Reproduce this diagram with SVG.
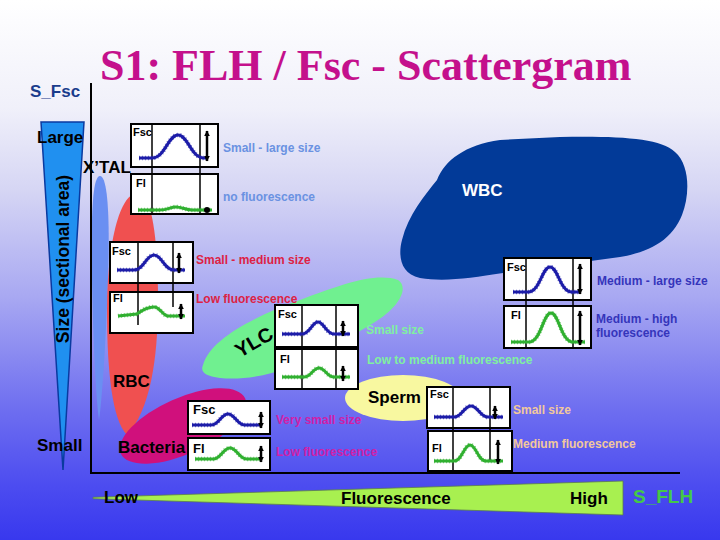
<svg xmlns="http://www.w3.org/2000/svg" width="720" height="540" viewBox="0 0 720 540">
<defs>
<linearGradient id="bg" x1="0" y1="0" x2="0" y2="1">
<stop offset="0" stop-color="#ffffff"/>
<stop offset="0.2" stop-color="#f0f0fa"/>
<stop offset="0.35" stop-color="#d6d6f4"/>
<stop offset="0.55" stop-color="#a8a8f2"/>
<stop offset="0.75" stop-color="#7070f0"/>
<stop offset="0.9" stop-color="#4c4cf0"/>
<stop offset="1" stop-color="#3838ee"/>
</linearGradient>
<marker id="ah" viewBox="0 0 10 10" refX="9" refY="5" markerWidth="6" markerHeight="6" markerUnits="userSpaceOnUse" orient="auto-start-reverse">
<path d="M0,0 L10,5 L0,10 Z" fill="#000"/>
</marker>
<style>
.t{font-family:"Liberation Sans",Arial,sans-serif;font-weight:bold}
.lbl{font-family:"Liberation Sans",Arial,sans-serif;font-weight:bold;font-size:17px;fill:#000}
.desc{font-family:"Liberation Sans",Arial,sans-serif;font-weight:bold;font-size:12px}
.pl{font-family:"Liberation Sans",Arial,sans-serif;font-weight:bold;font-size:11px;fill:#000}
.box{fill:#fff;stroke:#000;stroke-width:2}
.vl{stroke:#000;stroke-width:1.5}
.cb{fill:none;stroke:#1c1ca8;stroke-width:3;stroke-linejoin:round}
.cbt{fill:none;stroke:#1c1ca8;stroke-width:4.5;stroke-dasharray:1 2;opacity:0.6}
.cg{fill:none;stroke:#30b030;stroke-width:3;stroke-linejoin:round}
.cgt{fill:none;stroke:#30b030;stroke-width:4.5;stroke-dasharray:1 2;opacity:0.6}
.ar{stroke:#000;stroke-width:2.5;marker-start:url(#ah);marker-end:url(#ah)}
</style>
</defs>

<rect id="background" x="0" y="0" width="720" height="540" fill="url(#bg)"/>

<text id="title" x="100" y="80" font-family="Liberation Serif,Times New Roman,serif" font-weight="bold" font-size="44" fill="#c4108c">S1: FLH / Fsc - Scattergram</text>

<g id="y-axis-scale">
<polygon points="41,122 84,122 63,470" fill="#2090f0" stroke="#0a3aa0" stroke-width="1.5"/>
<text class="t" x="0" y="0" font-size="17.5" fill="#000" text-anchor="middle" transform="translate(69,259) rotate(-90)">Size (sectional area)</text>
<text class="t" x="30" y="97" font-size="17" fill="#1a3c8c">S_Fsc</text>
<text class="lbl" x="37" y="143">Large</text>
<text class="lbl" x="37" y="451">Small</text>
</g>

<g id="x-axis-scale">
<polygon points="93,497.3 623,481 623,515 93,498.7" fill="#a8f050" stroke="#5a7a50" stroke-width="0.8"/>
<text class="lbl" x="104" y="503">Low</text>
<text class="lbl" x="341" y="504">Fluorescence</text>
<text class="lbl" x="570" y="504">High</text>
<text class="t" x="633" y="503" font-size="19" fill="#44c848">S_FLH</text>
</g>

<g id="xtal">
<path d="M100,176 C108,176 110,220 108,280 C106,340 102,400 99,420 C96,400 93,340 92,280 C91,220 92,176 100,176 Z" fill="#6a8ff2"/>
<text class="lbl" x="83" y="173">X’TAL</text>
</g>

<g id="rbc">
<path d="M138,193 C152,193 158,240 158,300 C158,360 150,410 127,435 C112,420 107,370 107,310 C107,250 118,193 138,193 Z" fill="#f05050"/>
<text class="lbl" x="113" y="387">RBC</text>
</g>

<g id="bacteria">
<ellipse cx="183" cy="426" rx="68" ry="28" transform="rotate(-24 183 426)" fill="#d0107c"/>
<text class="lbl" x="118" y="453">Bacteria</text>
</g>

<g id="ylc">
<path d="M203,365 C210,340 250,318 300,300 C340,285 375,272 398,280 C410,288 398,308 375,322 C350,337 320,355 290,367 C265,377 240,380 220,378 C205,376 200,372 203,365 Z" fill="#70f090"/>
<text class="t" x="0" y="0" font-size="20" fill="#000" transform="translate(240,358) rotate(-30)">YLC</text>
</g>

<g id="sperm">
<ellipse cx="403" cy="398" rx="58" ry="23" fill="#f8f8a0"/>
<text class="lbl" x="368" y="403">Sperm</text>
</g>

<g id="wbc">
<path d="M437,180 C445,160 465,145 500,140 L560,137 C620,136 660,138 675,152 C690,165 690,195 682,215 C672,240 650,252 620,257 L503,273 C470,278 445,282 420,278 C400,274 398,255 402,240 C408,215 425,195 437,180 Z" fill="#023a98"/>
<text class="lbl" x="462" y="196" style="fill:#fff">WBC</text>
</g>

<g id="axes">
<line x1="91" y1="83" x2="91" y2="473" stroke="#000" stroke-width="2"/>
<line x1="90" y1="473" x2="680" y2="473" stroke="#000" stroke-width="2"/>
</g>

<g id="panel-xtal">
<rect class="box" x="131" y="124" width="87" height="43"/>
<rect class="box" x="131" y="174" width="87" height="40"/>
<line class="vl" x1="152" y1="124" x2="152" y2="214"/>
<line class="vl" x1="200" y1="124" x2="200" y2="214"/>
<text class="pl" x="133" y="136">Fsc</text>
<text class="pl" x="136" y="187">Fl</text>
<path class="cbt" d="M139,158 L152,158 C165,158 168,135 178,135 C188,135 191,158 204,158 L207,158"/>
<path class="cb" d="M139,158 L152,158 C165,158 168,135 178,135 C188,135 191,158 204,158 L207,158"/>
<path class="cgt" d="M138,210 L160,210 C168,210 170,207 176,207 C182,207 186,210 192,210 L212,210"/>
<path class="cg" d="M138,210 L160,210 C168,210 170,207 176,207 C182,207 186,210 192,210 L212,210"/>
<line class="ar" x1="207" y1="131" x2="207" y2="161"/>
<circle cx="207" cy="210" r="3" fill="#000"/>
<text class="desc" x="223" y="152" fill="#6a92e2">Small - large size</text>
<text class="desc" x="223" y="201" fill="#6a92e2">no fluorescence</text>
</g>

<g id="panel-rbc">
<rect class="box" x="110" y="242" width="83" height="41"/>
<rect class="box" x="110" y="292" width="83" height="41"/>
<line class="vl" x1="138" y1="242" x2="138" y2="325"/>
<line class="vl" x1="173" y1="242" x2="173" y2="307"/>
<text class="pl" x="112" y="255">Fsc</text>
<text class="pl" x="113" y="302">Fl</text>
<path class="cbt" d="M117,270 L134,270 C144,270 146,255 154,255 C162,255 164,270 174,270 L185,270"/>
<path class="cb" d="M117,270 L134,270 C144,270 146,255 154,255 C162,255 164,270 174,270 L185,270"/>
<path class="cgt" d="M118,316 L137,314 C145,308 149,307 154,307 C160,307 163,316 168,316 L185,316"/>
<path class="cg" d="M118,316 L137,314 C145,308 149,307 154,307 C160,307 163,316 168,316 L185,316"/>
<line class="ar" x1="179" y1="253" x2="179" y2="273"/>
<line class="ar" x1="181" y1="304" x2="181" y2="319"/>
<text class="desc" x="196" y="264" fill="#dd2244">Small - medium size</text>
<text class="desc" x="196" y="303" fill="#dd2244">Low fluorescence</text>
</g>

<g id="panel-ylc">
<rect class="box" x="275" y="305" width="83" height="42"/>
<rect class="box" x="275" y="349" width="83" height="40"/>
<line class="vl" x1="302" y1="305" x2="302" y2="389"/>
<line class="vl" x1="336" y1="305" x2="336" y2="389"/>
<text class="pl" x="278" y="318">Fsc</text>
<text class="pl" x="280" y="363">Fl</text>
<path class="cbt" d="M282,334 L302,334 C310,334 312,322 318,322 C324,322 326,334 334,334 L350,334"/>
<path class="cb" d="M282,334 L302,334 C310,334 312,322 318,322 C324,322 326,334 334,334 L350,334"/>
<path class="cgt" d="M282,377 L304,377 C311,377 313,368 319,368 C325,368 327,377 334,377 L350,377"/>
<path class="cg" d="M282,377 L304,377 C311,377 313,368 319,368 C325,368 327,377 334,377 L350,377"/>
<line class="ar" x1="343" y1="321" x2="343" y2="336"/>
<line class="ar" x1="343" y1="366" x2="343" y2="381"/>
<text class="desc" x="366" y="334" fill="#80f0a0">Small size</text>
<text class="desc" x="367" y="364" fill="#80f0a0">Low to medium fluorescence</text>
</g>

<g id="panel-wbc">
<rect class="box" x="504" y="258" width="87" height="42"/>
<rect class="box" x="504" y="306" width="87" height="42"/>
<line class="vl" x1="526" y1="258" x2="526" y2="348"/>
<line class="vl" x1="573" y1="258" x2="573" y2="348"/>
<text class="pl" x="507" y="271">Fsc</text>
<text class="pl" x="511" y="319">Fl</text>
<path class="cbt" d="M513,292 L528,292 C540,292 542,267 550,267 C558,267 560,292 572,292 L580,292"/>
<path class="cb" d="M513,292 L528,292 C540,292 542,267 550,267 C558,267 560,292 572,292 L580,292"/>
<path class="cgt" d="M511,342 L529,342 C541,342 543,313 551,313 C559,313 561,342 573,342 L585,342"/>
<path class="cg" d="M511,342 L529,342 C541,342 543,313 551,313 C559,313 561,342 573,342 L585,342"/>
<line class="ar" x1="580" y1="264" x2="580" y2="294"/>
<line class="ar" x1="580" y1="311" x2="580" y2="345"/>
<text class="desc" x="597" y="285" fill="#3535bb">Medium - large size</text>
<text class="desc" x="596" y="323" fill="#3535bb">Medium - high</text>
<text class="desc" x="596" y="337" fill="#3535bb">fluorescence</text>
</g>

<g id="panel-bacteria">
<rect class="box" x="188" y="401" width="82" height="33"/>
<rect class="box" x="188" y="438" width="82" height="32"/>
<text class="pl" x="193" y="414" style="font-size:13px">Fsc</text>
<text class="pl" x="193" y="453" style="font-size:13px">Fl</text>
<path class="cbt" d="M192,425 L211,425 C219,425 221,414 228,414 C235,414 237,425 245,425 L262,425"/>
<path class="cb" d="M192,425 L211,425 C219,425 221,414 228,414 C235,414 237,425 245,425 L262,425"/>
<path class="cgt" d="M195,459 L213,459 C221,459 223,448 230,448 C237,448 239,459 247,459 L262,459"/>
<path class="cg" d="M195,459 L213,459 C221,459 223,448 230,448 C237,448 239,459 247,459 L262,459"/>
<line class="ar" x1="261" y1="412" x2="261" y2="428"/>
<line class="ar" x1="261" y1="446" x2="261" y2="462"/>
<text class="desc" x="276" y="424" fill="#d020a8">Very small size</text>
<text class="desc" x="276" y="456" fill="#d020a8">Low fluorescence</text>
</g>

<g id="panel-sperm">
<rect class="box" x="427" y="387" width="83" height="41"/>
<rect class="box" x="428" y="431" width="84" height="40"/>
<line class="vl" x1="453" y1="387" x2="453" y2="471"/>
<line class="vl" x1="490" y1="387" x2="490" y2="462"/>
<text class="pl" x="430" y="398">Fsc</text>
<text class="pl" x="432" y="452">Fl</text>
<path class="cbt" d="M434,417 L454,417 C462,417 464,406 471,406 C478,406 480,417 488,417 L503,417"/>
<path class="cb" d="M434,417 L454,417 C462,417 464,406 471,406 C478,406 480,417 488,417 L503,417"/>
<path class="cgt" d="M434,461 L454,461 C462,461 464,445 470,445 C476,445 478,461 486,461 L503,461"/>
<path class="cg" d="M434,461 L454,461 C462,461 464,445 470,445 C476,445 478,461 486,461 L503,461"/>
<line class="ar" x1="495" y1="406" x2="495" y2="419"/>
<line class="ar" x1="498" y1="440" x2="498" y2="464"/>
<text class="desc" x="513" y="414" fill="#f2c89c">Small size</text>
<text class="desc" x="513" y="448" fill="#f2c89c">Medium fluorescence</text>
</g>
</svg>
